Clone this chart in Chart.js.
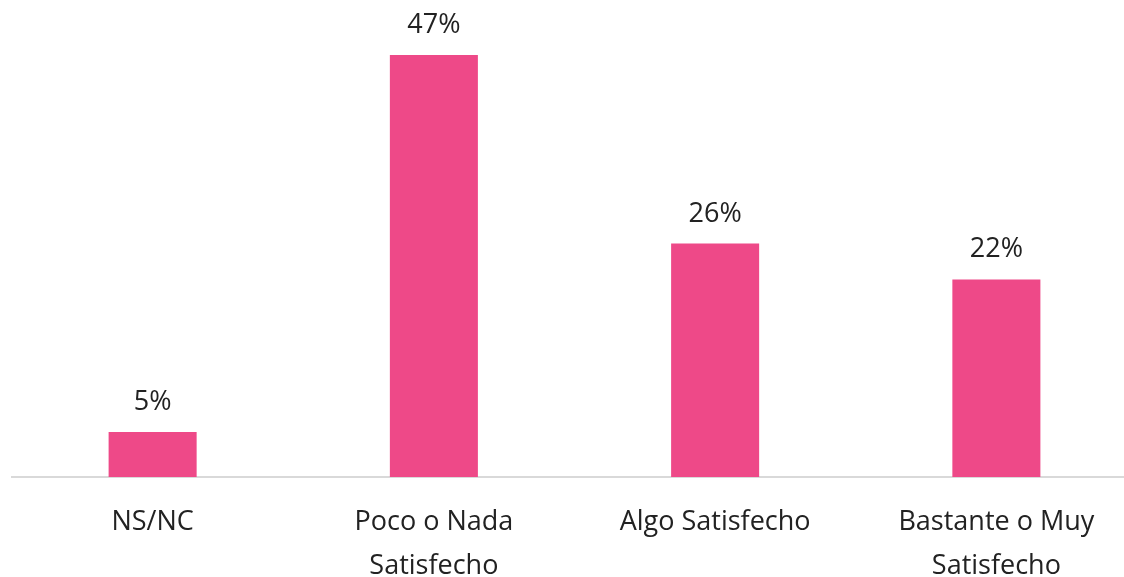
<!DOCTYPE html>
<html>
<head>
<meta charset="utf-8">
<script src="https://cdn.jsdelivr.net/npm/chart.js@4.4.1/dist/chart.umd.min.js"></script>
<style>
  html, body { margin: 0; padding: 0; background: #fff; overflow: hidden; }
  #wrap { width: 1137px; height: 624px; }
</style>
</head>
<body>
<div id="wrap"><canvas id="myChart" width="1137" height="624"></canvas></div>
<script>
const categories = [
  'NS/NC',
  ['Poco o Nada', 'Satisfecho'],
  'Algo Satisfecho',
  ['Bastante o Muy', 'Satisfecho'],
]
const values = [5, 47, 26, 22]

const PINK = 'rgb(238, 73, 136)'
const FONT = "'Open Sans', sans-serif"

// draws the "NN%" text above every bar
const valueLabels = {
  id: 'valueLabels',
  afterDatasetsDraw(chart) {
    const { ctx } = chart
    const meta = chart.getDatasetMeta(0)
    ctx.save()
    ctx.font = `27px ${FONT}`
    ctx.fillStyle = '#222'
    ctx.textAlign = 'center'
    ctx.textBaseline = 'alphabetic'
    meta.data.forEach((bar, i) => {
      ctx.fillText(`${values[i]}%`, bar.x, bar.y - 22)
    })
    ctx.restore()
  },
}

const ctx = document.getElementById('myChart').getContext('2d')
const myChart = new Chart(ctx, {
  type: 'bar',
  data: {
    labels: categories,
    datasets: [
      {
        data: values,
        backgroundColor: PINK,
        borderWidth: 0,
        barPercentage: 0.626,
        categoryPercentage: 0.5,
      },
    ],
  },
  options: {
    responsive: false,
    animation: false,
    layout: {
      padding: { left: 12, right: 0, top: 28, bottom: 13 },
    },
    plugins: {
      legend: { display: false },
      tooltip: { enabled: false },
    },
    scales: {
      x: {
        grid: { display: false, drawTicks: false },
        border: { display: true, color: '#d9d9d9', width: 2 },
        ticks: {
          color: '#222',
          padding: 23,
          maxRotation: 0,
          autoSkip: false,
          font: { family: FONT, size: 27, lineHeight: 1.63 },
        },
      },
      y: {
        display: false,
        min: 0,
        max: 50,
      },
    },
  },
  plugins: [valueLabels],
})
</script>
</body>
</html>
